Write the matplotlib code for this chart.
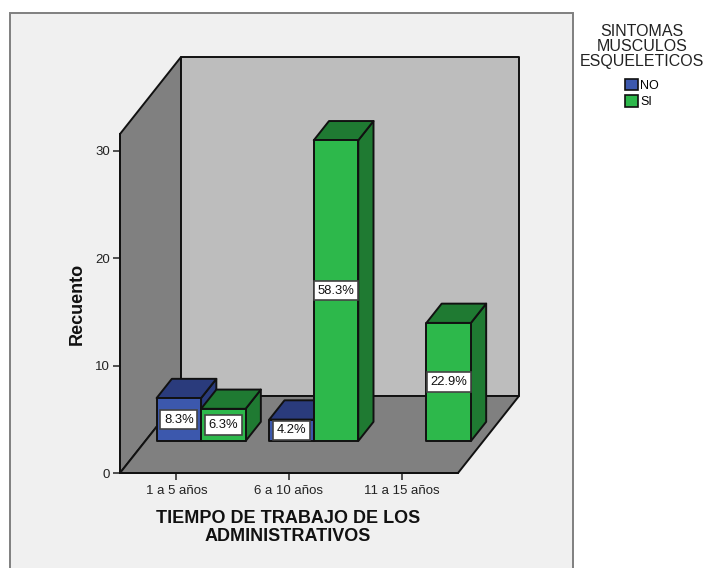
import matplotlib
matplotlib.use('Agg')
import matplotlib.pyplot as plt
from matplotlib.patches import Polygon, Rectangle, Patch

plt.rcParams['font.family'] = ['Liberation Sans', 'DejaVu Sans']

categories = ['1 a 5 años', '6 a 10 años', '11 a 15 años']
series_names = ['NO', 'SI']
no_counts = [4, 2, 0]
si_counts = [3, 28, 11]
no_labels = ['8.3%', '4.2%', '']
si_labels = ['6.3%', '58.3%', '22.9%']
yticks = [0, 10, 20, 30]

front_cols = ['#3c58ad', '#2db84b']
top_cols = ['#2a3b7c', '#1f7a32']
side_cols = ['#2a3b7c', '#1f7a32']

W, H = 703, 568
fig = plt.figure(figsize=(W / 100, H / 100), dpi=100, facecolor='white')

# grey chart frame, runs off the bottom of the picture
fig.add_artist(Rectangle((9.5 / W, -0.02), 563.5 / W, 1.02 - 12.5 / H, transform=fig.transFigure,
                         facecolor='#f0f0f0', edgecolor='#7f7f7f', linewidth=1.4, zorder=-1))

ax = fig.add_axes([120 / W, (H - 473) / H, 338 / W, 339 / H])
ax.patch.set_visible(False)
ymax = 31.56
ax.set_xlim(0, 3)
ax.set_ylim(0, ymax)

# depth of the box in data units
ddx = 61 / (338 / 3)
ddy = 77 / (339 / ymax)


def poly(pts, color, z):
    ax.add_patch(Polygon(pts, closed=True, facecolor=color, edgecolor='#111111', linewidth=1.4,
                         clip_on=False, zorder=z, joinstyle='round'))


# walls and floor
poly([(0, 0), (ddx, ddy), (ddx, ymax + ddy), (0, ymax)], '#808080', 1)
poly([(ddx, ddy), (3 + ddx, ddy), (3 + ddx, ymax + ddy), (ddx, ymax + ddy)], '#bdbdbd', 1)
poly([(0, 0), (3, 0), (3 + ddx, ddy), (ddx, ddy)], '#808080', 2)

bar_w = 0.395
d0 = 0.415
d1 = 0.665


def bar3d(x, val, s, z, label):
    x0 = x + d0 * ddx
    y0 = d0 * ddy
    x1 = x0 + bar_w
    ox = (d1 - d0) * ddx
    oy = (d1 - d0) * ddy
    poly([(x1, y0), (x1 + ox, y0 + oy), (x1 + ox, y0 + val + oy), (x1, y0 + val)], side_cols[s], z)
    poly([(x0, y0 + val), (x1, y0 + val), (x1 + ox, y0 + val + oy), (x0 + ox, y0 + val + oy)], top_cols[s], z)
    poly([(x0, y0), (x1, y0), (x1, y0 + val), (x0, y0 + val)], front_cols[s], z)
    ax.text(x0 + bar_w / 2, y0 + val / 2, label, ha='center', va='center', fontsize=9.4, color='#111111',
            zorder=20, bbox=dict(boxstyle='square,pad=0.28', facecolor='white', edgecolor='#444444', linewidth=1.2))


for i in range(len(categories)):
    x = i + 0.495 - bar_w
    if no_counts[i] > 0:
        bar3d(x, no_counts[i], 0, 5 + 2 * i, no_labels[i])
    if si_counts[i] > 0:
        bar3d(x + bar_w, si_counts[i], 1, 6 + 2 * i, si_labels[i])

for s in ['top', 'right']:
    ax.spines[s].set_visible(False)
for s in ['left', 'bottom']:
    ax.spines[s].set_linewidth(1.4)
    ax.spines[s].set_color('#111111')
    ax.spines[s].set_zorder(3)

ax.set_xticks([0.5, 1.5, 2.5])
ax.set_xticklabels(categories)
ax.set_yticks(yticks)
ax.tick_params(axis='both', length=5, width=1.1, color='#222222', labelsize=9.5, labelcolor='#222222', pad=2)
ax.tick_params(axis='x', pad=4)

ax.set_ylabel('Recuento', fontsize=13, fontweight='bold', color='#111111')
ax.yaxis.set_label_coords(-34 / 338, (473 - 304) / 339)
ax.set_xlabel('TIEMPO DE TRABAJO DE LOS\nADMINISTRATIVOS', fontsize=13, fontweight='bold', color='#111111',
              linespacing=1.05)
ax.xaxis.set_label_coords(168 / 338, -37 / 339)

handles = [Patch(facecolor=front_cols[i], edgecolor='#111111', linewidth=1.2, label=series_names[i]) for i in range(2)]
leg = fig.legend(handles=handles, title='SINTOMAS\nMUSCULOS\nESQUELETICOS', loc='upper center',
                 bbox_to_anchor=(642 / W, 1 - 14 / H), frameon=False, fontsize=9, title_fontsize=11.5,
                 handlelength=1.0, handleheight=1.0, handletextpad=0.2, labelspacing=0.3, borderpad=0.3,
                 alignment='center')
leg.get_title().set_linespacing(1.0)
leg.get_title().set_multialignment('center')
leg.get_title().set_color('#222222')
leg._legend_box.sep = 7

fig.savefig('out.png', dpi=100)
